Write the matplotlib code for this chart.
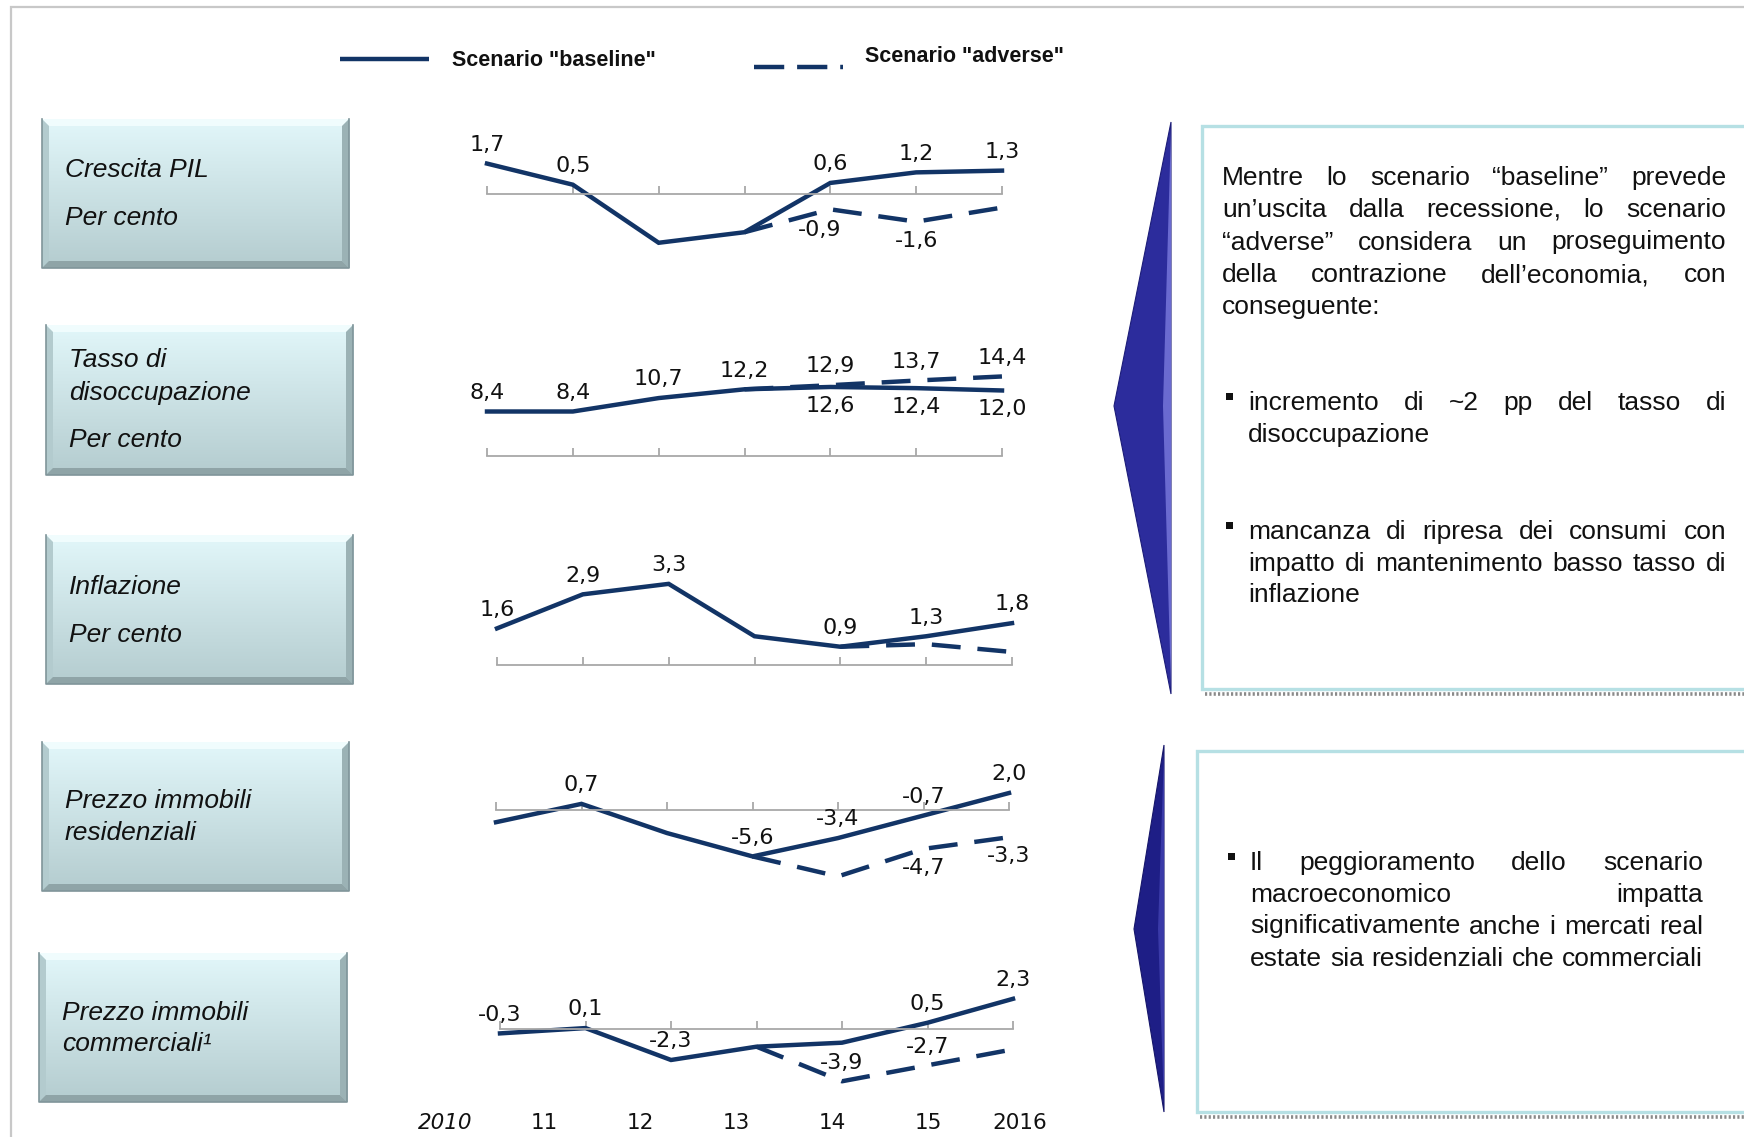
import numpy as np
import matplotlib
matplotlib.use('Agg')
import matplotlib.pyplot as plt
from matplotlib.patches import Polygon, Rectangle
from matplotlib.colors import to_rgb
from matplotlib import font_manager

W, H = 1744, 1137
nan = np.nan

# --- data ---
years = ['2010', '11', '12', '13', '14', '15', '2016']

gdp_base = [1.7, 0.5, -2.8, -2.2, 0.6, 1.2, 1.3]
gdp_adv = [nan, nan, nan, -2.2, -0.9, -1.6, -0.8]

unemp_base = [8.4, 8.4, 10.7, 12.2, 12.6, 12.4, 12.0]
unemp_adv = [nan, nan, nan, 12.2, 12.9, 13.7, 14.4]

infl_base = [1.6, 2.9, 3.3, 1.3, 0.9, 1.3, 1.8]
infl_adv = [nan, nan, nan, nan, 0.9, 1.0, 0.7]

res_base = [-1.5, 0.7, -2.8, -5.6, -3.4, -0.7, 2.0]
res_adv = [nan, nan, nan, -5.6, -8.0, -4.7, -3.3]

comm_base = [-0.3, 0.1, -2.3, -1.3, -1.0, 0.5, 2.3]
comm_adv = [nan, nan, nan, -1.3, -3.9, -2.7, -1.5]

box_labels = [
    ['Crescita PIL', 'Per cento'],
    ['Tasso di', 'disoccupazione', 'Per cento'],
    ['Inflazione', 'Per cento'],
    ['Prezzo immobili', 'residenziali'],
    ['Prezzo immobili', 'commerciali\u00b9'],
]

para_top = [
    'Mentre lo scenario \u201cbaseline\u201d prevede',
    'un\u2019uscita dalla recessione, lo scenario',
    '\u201cadverse\u201d considera un proseguimento',
    'della contrazione dell\u2019economia, con',
    'conseguente:',
]
bullet_1 = ['incremento di ~2 pp del tasso di', 'disoccupazione']
bullet_2 = ['mancanza di ripresa dei consumi con',
            'impatto di mantenimento basso tasso di', 'inflazione']
bullet_3 = ['Il peggioramento dello scenario', 'macroeconomico impatta',
            'significativamente anche i mercati real',
            'estate sia residenziali che commerciali']

NAVY = '#123466'
AXGREY = '#a8a8a8'
TXT = '#111111'

names = {f.name for f in font_manager.fontManager.ttflist}
LEG_FONT = 'Liberation Sans Narrow' if 'Liberation Sans Narrow' in names else 'Liberation Sans'
LEG_SIZE = 18 if LEG_FONT == 'Liberation Sans Narrow' else 15.5

fig = plt.figure(figsize=(W / 100, H / 100), dpi=100)
fig.patch.set_facecolor('white')
bg = fig.add_axes([0, 0, 1, 1])
bg.axis('off')


def frac(x0, y0, x1, y1):
    return [x0 / W, 1 - y1 / H, (x1 - x0) / W, (y1 - y0) / H]


# outer slide frame
bg.plot([11, 11, W], [H, 7, 7], color='#c8c8c8', lw=1.6, solid_joinstyle='miter')

# legend
bg.plot([340, 429], [59, 59], color=NAVY, lw=3.2, solid_capstyle='butt')
bg.text(452, 61, 'Scenario "baseline"', family=LEG_FONT, fontsize=LEG_SIZE,
        fontweight='bold', va='center', ha='left', color=TXT)
bg.plot([754, 843], [67, 67], color=NAVY, lw=3.2, dashes=(6.8, 2.9), dash_capstyle='butt')
bg.text(865, 57, 'Scenario "adverse"', family=LEG_FONT, fontsize=LEG_SIZE,
        fontweight='bold', va='center', ha='left', color=TXT)


# --- left label boxes ---
def left_box(x0, y0, x1, y1, lines, tx, ty):
    g = np.linspace(0, 1, 120)[:, None, None]
    c0 = np.array(to_rgb('#e2f7fa'))
    c1 = np.array(to_rgb('#b4cccf'))
    img = c0 * (1 - g) + c1 * g
    bg.imshow(img, extent=(x0, x1, y1, y0), aspect='auto', zorder=1,
              interpolation='bilinear')
    b = 7
    bg.add_patch(Polygon([(x0, y0), (x1, y0), (x1 - b, y0 + b), (x0 + b, y0 + b)],
                         closed=True, fc='#f0fcfd', ec='none', zorder=2))
    bg.add_patch(Polygon([(x0, y0), (x0 + b, y0 + b), (x0 + b, y1 - b), (x0, y1)],
                         closed=True, fc='#b3cbce', ec='none', zorder=2))
    bg.add_patch(Polygon([(x1, y0), (x1 - b, y0 + b), (x1 - b, y1 - b), (x1, y1)],
                         closed=True, fc='#9bb2b5', ec='none', zorder=2))
    bg.add_patch(Polygon([(x0, y1), (x0 + b, y1 - b), (x1 - b, y1 - b), (x1, y1)],
                         closed=True, fc='#8fa4a7', ec='none', zorder=2))
    bg.plot([x0, x0, x1, x1], [y0, y1, y1, y0], color='#80959a', lw=1.2, zorder=3)
    for s, y in zip(lines, ty):
        bg.text(tx, y, s, fontsize=19, style='italic', family='Liberation Sans',
                va='center', ha='left', color=TXT, zorder=4)


left_box(42, 119, 349, 268, box_labels[0], 65, [170, 218])
left_box(46, 325, 353, 475, box_labels[1], 69, [360, 393, 440])
left_box(46, 535, 353, 684, box_labels[2], 69, [587, 635])
left_box(42, 742, 349, 891, box_labels[3], 65, [801, 833])
left_box(39, 953, 347, 1102, box_labels[4], 62, [1013, 1044])


# --- line panels ---
def fmt(v):
    return f'{v:.1f}'.replace('.', ',')


def panel(base, adv, x0, x1, ref_v, ref_px, scale, axis_v, lo, hi, lab_b, lab_a):
    top = ref_px - (hi - ref_v) * scale
    bot = ref_px - (lo - ref_v) * scale
    ax = fig.add_axes(frac(x0, top, x1, bot))
    ax.set_xlim(0, 6)
    ax.set_ylim(lo, hi)
    ax.patch.set_alpha(0)
    for s in ['top', 'left', 'right']:
        ax.spines[s].set_visible(False)
    ax.spines['bottom'].set_position(('data', axis_v))
    ax.spines['bottom'].set_color(AXGREY)
    ax.spines['bottom'].set_linewidth(1.3)
    ax.set_xticks(range(7))
    ax.set_xticklabels([])
    ax.set_yticks([])
    ax.tick_params(axis='x', direction='in', length=6, width=1.3, color=AXGREY)
    x = np.arange(7)
    ax.plot(x, adv, color=NAVY, lw=3.2, dashes=(6.5, 3.8), dash_capstyle='butt',
            clip_on=False)
    ax.plot(x, base, color=NAVY, lw=3.2, clip_on=False, solid_joinstyle='miter')
    for series, labs in ((base, lab_b), (adv, lab_a)):
        for i, d, dx in labs:
            ax.annotate(fmt(series[i]), (i, series[i]), xytext=(dx, 13.5 * d),
                        textcoords='offset points', ha='center', va='center',
                        fontsize=16, family='DejaVu Sans', color=TXT,
                        annotation_clip=False)
    return ax


panel(gdp_base, gdp_adv, 487, 1002, 0, 193.5, 17.6, 0, -3.5, 2.5,
      [(0, 1, 0), (1, 1, 0), (4, 1, 0), (5, 1, 0), (6, 1, 0)],
      [(4, -1.1, -8), (5, -1.05, 0)])
panel(unemp_base, unemp_adv, 487, 1002, 8.4, 411.5, 5.84, 0.8, 0.8, 15.5,
      [(0, 1, 0), (1, 1, 0), (2, 1, 0), (3, 1, 0), (4, -1, 0), (5, -1, 0), (6, -1, 0)],
      [(4, 1, 0), (5, 1, 0), (6, 1, 0)])
panel(infl_base, infl_adv, 497, 1012, 1.6, 628.4, 26.2, 0.2, 0.2, 3.6,
      [(0, 1, 0), (1, 1, 0), (2, 1, 0), (4, 1, 0), (5, 1, 0), (6, 1, 0)],
      [])
panel(res_base, res_adv, 496, 1009, 0, 809.7, 8.34, 0, -8.5, 2.5,
      [(1, 1, 0), (3, 1, 0), (4, 1, 0), (5, 1, 0), (6, 1, 0)],
      [(5, -1, 0), (6, -1, 0)])
panel(comm_base, comm_adv, 500, 1013, 0, 1029.4, 13.3, 0, -4.2, 2.6,
      [(0, 1, 0), (1, 1, 0), (2, 1, 0), (5, 1, 0), (6, 1, 0)],
      [(4, 1, 0), (5, 1, 0)])

# year labels along the bottom
for s, xp in zip(years, [445, 544, 640, 736, 832, 928, 1020]):
    bg.text(xp, 1123, s, fontsize=15.5, family='DejaVu Sans', ha='center', va='center',
            color=TXT, style='italic' if s == '2010' else 'normal')

# --- arrows (left-pointing wedges) ---
bg.add_patch(Polygon([(1171, 122), (1114, 406), (1171, 694)], closed=True,
                     fc='#2c2c9c', ec='#1c1c78', lw=0.8, zorder=2))
bg.add_patch(Polygon([(1171, 128), (1163, 406), (1171, 688)], closed=True,
                     fc='#6a6ad0', ec='none', zorder=3))
bg.add_patch(Polygon([(1164, 745), (1134, 929), (1164, 1112)], closed=True,
                     fc='#1e1e86', ec='#16166a', lw=0.8, zorder=2))
bg.add_patch(Polygon([(1164, 752), (1158, 929), (1164, 1105)], closed=True,
                     fc='#3a3aa8', ec='none', zorder=3))

# --- right text boxes ---
for (x0, y0, y1) in [(1202, 126, 689), (1197, 751, 1112)]:
    bg.add_patch(Rectangle((x0, y0), W + 20 - x0, y1 - y0, fc='white',
                           ec='#b6e0e4', lw=2.4, zorder=2))
    bg.plot([x0 + 3, W], [y1 + 5, y1 + 5], color='#8a8a8a', lw=2.6,
            dashes=(0.6, 0.6), zorder=2)

renderer = fig.canvas.get_renderer()
FS = 19


def justify(line, x0, x1, y, full=True):
    if not full:
        bg.text(x0, y, line, fontsize=FS, family='Liberation Sans', ha='left',
                va='center', color=TXT, zorder=5)
        return
    words = line.split(' ')
    ts = [bg.text(x0, y, w, fontsize=FS, family='Liberation Sans', ha='left',
                  va='center', color=TXT, zorder=5) for w in words]
    widths = [t.get_window_extent(renderer).width for t in ts]
    gap = max((x1 - x0 - sum(widths)) / max(len(ts) - 1, 1), 4)
    xp = x0
    for t, w in zip(ts, widths):
        t.set_x(xp)
        xp += w + gap


def bullet(x, y):
    bg.add_patch(Rectangle((x, y - 10), 7, 7, fc=TXT, ec='none', zorder=5))


ys = [178, 210, 242.5, 275, 307]
for i, (line, y) in enumerate(zip(para_top, ys)):
    justify(line, 1222, 1726, y, full=i < 4)

bullet(1226, 403)
for i, (line, y) in enumerate(zip(bullet_1, [403, 435])):
    justify(line, 1248, 1726, y, full=i == 0)

bullet(1226, 532)
for i, (line, y) in enumerate(zip(bullet_2, [532, 564, 595])):
    justify(line, 1248, 1726, y, full=i < 2)

bullet(1228, 863)
for line, y in zip(bullet_3, [863, 895, 926.5, 959]):
    justify(line, 1250, 1703, y, full=True)

bg.set_xlim(0, W)
bg.set_ylim(H, 0)

fig.savefig('out.png', dpi=100, facecolor='white')
